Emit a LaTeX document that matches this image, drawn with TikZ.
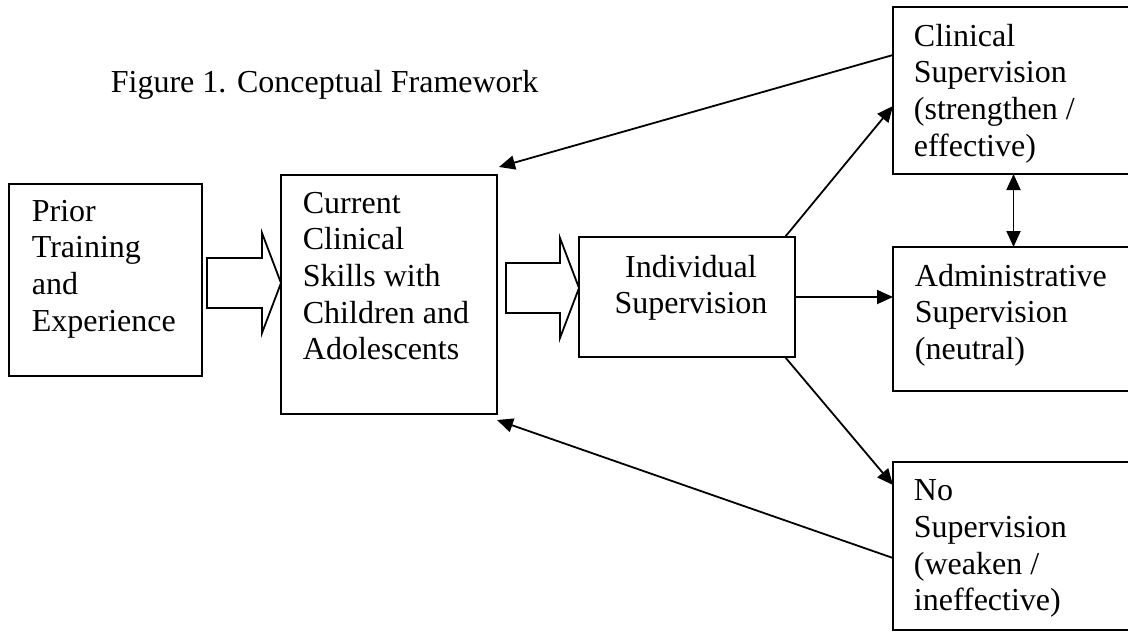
\documentclass[tikz,border=0pt]{standalone}
\usepackage{fontspec}
\setmainfont{Liberation Serif}
\usetikzlibrary{calc,arrows.meta}

% outline block arrow from a start point to its tip
\newcommand{\hollowarrow}[2]{%
  \draw[hollow] ($(#1)+(0,-25)$) -- ($(#2)+(-19,-25)$) -- ($(#2)+(-19,-50)$)
    -- (#2) -- ($(#2)+(-19,50)$) -- ($(#2)+(-19,25)$) -- ($(#1)+(0,25)$) -- cycle;}

\begin{document}
\begin{tikzpicture}[x=0.5pt,y=-0.5pt,line width=0.9pt,
  >={Triangle[length=8pt,width=7pt]},
  frame/.style={draw,anchor=north west,inner sep=0pt,outer sep=0pt},
  txt/.style={anchor=north west,align=left,inner sep=0pt,
    font=\fontsize{16}{18.35}\selectfont,
    execute at begin node={\rule{0pt}{12pt}}},
  hollow/.style={draw,line join=miter}]
  \path[use as bounding box] (0,0) rectangle (1128,631);
  \clip (0,0) rectangle (1128,631);

  \node[txt,anchor=base west] (title) at (110,92) {Figure 1. Conceptual Framework};

  % boxes
  \node[frame,minimum width=96.5pt,minimum height=96pt] (prior) at (9,184) {};
  \node[frame,minimum width=108pt,minimum height=119.5pt] (skills) at (281,175) {};
  \node[frame,minimum width=108pt,minimum height=60pt] (indiv) at (579,237) {};
  \node[frame,minimum width=120.5pt,minimum height=83.5pt] (clin) at (893,7) {};
  \node[frame,minimum width=120.5pt,minimum height=72pt] (admin) at (893,247) {};
  \node[frame,minimum width=120.5pt,minimum height=84pt] (nosup) at (893,462) {};

  % texts (first baseline 40px below the top edge)
  \node[txt] (priortxt) at ($(prior.north west)+(22,15)$)
    {Prior\\Training\\and\\Experience};
  \node[txt] (skillstxt) at ($(skills.north west)+(21,16)$)
    {Current\\Clinical\\Skills with\\Children and\\Adolescents};
  \node[txt,anchor=north,align=center] (indivtxt) at ($(indiv.north)+(4,17)$)
    {Individual\\Supervision};
  \node[txt] (clintxt) at ($(clin.north west)+(20,16)$)
    {Clinical\\Supervision\\(strengthen /\\effective)};
  \node[txt] (admintxt) at ($(admin.north west)+(21,16)$)
    {Administrative\\Supervision\\(neutral)};
  \node[txt] (nosuptxt) at ($(nosup.north west)+(20,17)$)
    {No\\Supervision\\(weaken /\\ineffective)};

  % block arrows
  \coordinate (b1) at (207,283);
  \coordinate (b2) at (506,288);
  \hollowarrow{b1}{skills.west |- b1}
  \hollowarrow{b2}{indiv.west |- b2}

  % connectors
  \draw[->] ($(clin.north west)+(0,48)$) -- ($(skills.north east)+(2,-8)$);
  \draw[->] ($(indiv.north east)+(-10,0)$) -- ($(clin.north west)+(0,99)$);
  \draw[->] (indiv.east) -- (indiv.east -| admin.west);
  \draw[->] ($(indiv.south east)+(-10,0)$) -- ($(nosup.north west)+(0,23)$);
  \draw[->] ($(nosup.north west)+(0,96)$) -- ($(skills.south east)+(0,6)$);
  \draw[<->] (clin.south) -- (admin.north);
\end{tikzpicture}
\end{document}
